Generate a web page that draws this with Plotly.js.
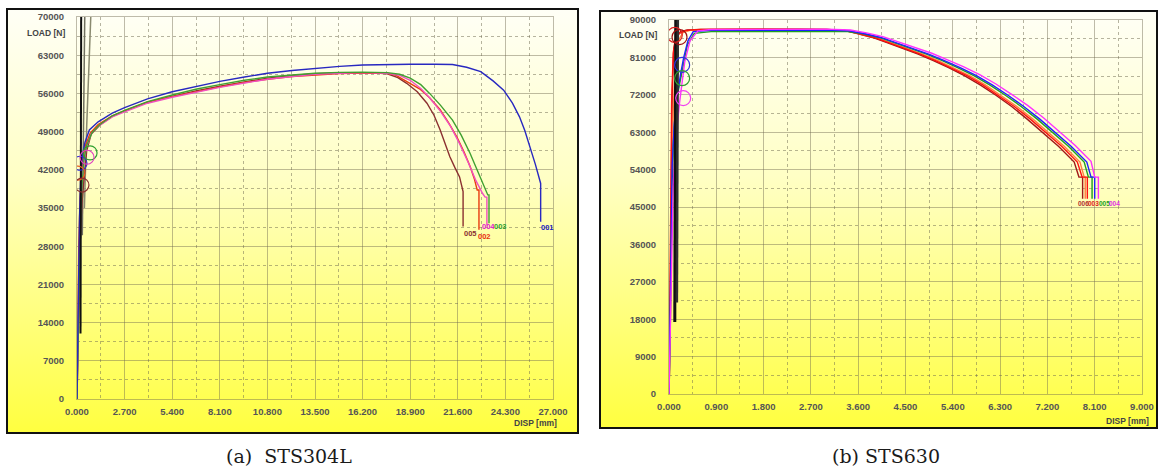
<!DOCTYPE html>
<html>
<head>
<meta charset="utf-8">
<script src="https://cdn.plot.ly/plotly-3.0.1.min.js"></script>
<style>
  html, body { margin:0; padding:0; background:#ffffff; }
  #wrap { position:relative; width:1160px; height:475px; overflow:hidden; }
  .panel { position:absolute; box-sizing:border-box; border:2px solid #111;
           background: linear-gradient(to bottom, #fffff6 0%, #ffffc4 40%, #ffff78 75%, #ffff40 100%); }
  #chart { position:absolute; left:0; top:0; width:1160px; height:475px; }
</style>
</head>
<body>
<div id="wrap">
  <div class="panel" style="left:6px; top:8px; width:573px; height:426px;"></div>
  <div class="panel" style="left:599px; top:10px; width:559px; height:419px;"></div>
  <div id="chart"></div>
</div>
<script>
// ---------------- (a) STS304L ----------------
const dispTicksA = [0, 2.7, 5.4, 8.1, 10.8, 13.5, 16.2, 18.9, 21.6, 24.3, 27.0];
const loadTicksA = [0, 7000, 14000, 21000, 28000, 35000, 42000, 49000, 56000, 63000, 70000];

const a001_x = [0, 0.03, 0.08, 0.14, 0.2, 0.3, 0.45, 0.7, 1.2, 2.0, 2.7, 4.0, 5.4, 6.8, 8.1, 9.5, 10.8, 12.2, 13.5, 14.9, 16.2, 17.6, 18.9, 20.3, 21.3, 22.1, 22.9, 23.6, 24.2, 24.7, 25.1, 25.4, 25.7, 26.0, 26.3, 26.3];
const a001_y = [0, 8000, 20000, 33000, 40000, 44500, 47000, 49300, 50800, 52400, 53400, 55000, 56300, 57300, 58200, 59000, 59700, 60200, 60600, 60950, 61200, 61300, 61350, 61350, 61300, 60800, 60000, 58300, 56600, 54200, 51700, 49200, 46200, 43000, 39500, 32500];

const a003_x = [0, 0.04, 0.1, 0.18, 0.28, 0.4, 0.55, 0.85, 1.3, 2.0, 2.7, 4.0, 5.4, 6.8, 8.1, 9.5, 10.8, 12.2, 13.5, 14.9, 16.2, 17.6, 18.3, 18.9, 19.5, 20.0, 20.6, 21.3, 21.8, 22.3, 22.7, 23.0, 23.3, 23.37, 23.37];
const a003_y = [0, 7000, 19000, 31000, 39000, 44000, 46500, 48800, 50300, 51900, 52900, 54500, 55700, 56800, 57600, 58400, 59000, 59400, 59700, 59850, 59900, 59800, 59500, 58800, 57600, 56000, 53900, 51100, 48300, 45000, 42000, 39500, 37400, 37400, 32200];

const a004_x = [0, 0.03, 0.09, 0.16, 0.25, 0.38, 0.55, 0.8, 1.3, 2.0, 2.7, 4.0, 5.4, 6.8, 8.1, 9.5, 10.8, 12.2, 13.5, 14.9, 16.2, 17.6, 18.3, 18.9, 19.5, 20.0, 20.6, 21.2, 21.7, 22.2, 22.6, 23.0, 23.15, 23.25, 23.25];
const a004_y = [0, 6000, 18000, 30000, 38000, 43500, 46300, 48600, 50200, 51700, 52600, 54200, 55300, 56300, 57100, 57900, 58600, 59100, 59500, 59700, 59800, 59700, 59300, 58400, 56900, 55200, 52800, 49900, 46800, 43300, 40200, 37700, 37000, 37000, 31800];

const a002_x = [0, 0.02, 0.05, 0.1, 0.18, 0.3, 0.45, 0.75, 1.2, 2.0, 2.7, 4.0, 5.4, 6.8, 8.1, 9.5, 10.8, 12.2, 13.5, 14.9, 16.2, 17.6, 18.1, 18.7, 19.45, 20.0, 20.6, 21.1, 21.55, 21.95, 22.3, 22.55, 22.7, 22.8, 22.8];
const a002_y = [0, 5000, 15000, 28000, 37000, 43000, 46200, 48700, 50300, 51900, 52800, 54400, 55400, 56400, 57200, 58000, 58600, 59100, 59400, 59650, 59750, 59700, 59300, 58200, 56800, 55200, 53000, 50500, 48000, 45300, 42600, 40200, 38300, 38300, 31000];

const a005_x = [0, 0.04, 0.1, 0.18, 0.28, 0.4, 0.55, 0.8, 1.3, 2.0, 2.7, 4.0, 5.4, 6.8, 8.1, 9.5, 10.8, 12.2, 13.5, 14.9, 16.2, 17.0, 17.6, 18.2, 18.7, 19.3, 19.85, 20.25, 20.6, 20.9, 21.15, 21.45, 21.7, 21.9, 21.9];
const a005_y = [0, 6000, 17000, 29000, 36000, 41000, 45500, 48500, 50200, 51800, 52800, 54400, 55500, 56500, 57300, 58100, 58800, 59300, 59600, 59750, 59800, 59750, 59600, 58900, 57850, 56300, 54200, 52000, 49300, 46800, 44400, 42300, 40700, 38000, 31600];

// extensometer-like dark traces near origin
const aBlk1_x = [0.2, 0.22, 0.24];
const aBlk1_y = [12000, 45000, 76000];
const aBlk2_x = [0.3, 0.36, 0.46];
const aBlk2_y = [30000, 50000, 76000];
const aBlk3_x = [0.42, 0.55, 0.85];
const aBlk3_y = [35000, 50000, 76000];

// yield markers (circles)
const aCirc_x = [0.17, 0.05, 0.28, 0.74, 0.57];
const aCirc_y = [43200, 41400, 39200, 45100, 44300];
const aCirc_c = ['#3030d0', '#e86020', '#8b3030', '#30a030', '#e040c0'];

// specimen labels
const aLab_t = ['005', '002', '004', '003', '001'];
const aLab_x = [22.3, 23.1, 23.35, 24.0, 26.66];
const aLab_y = [30400, 29700, 31600, 31600, 31500];
const aLab_c = ['#8b3030', '#e83010', '#e020d0', '#30a030', '#2020c0'];

// ---------------- (b) STS630 ----------------
const dispTicksB = [0, 0.9, 1.8, 2.7, 3.6, 4.5, 5.4, 6.3, 7.2, 8.1, 9.0];
const loadTicksB = [0, 9000, 18000, 27000, 36000, 45000, 54000, 63000, 72000, 81000, 90000];

const bDR_x = [0, 0.02, 0.04, 0.06, 0.09, 0.14, 0.22, 0.35, 0.6, 1.5, 2.5, 3.0, 3.33, 3.6, 3.87, 4.16, 4.45, 4.74, 5.03, 5.33, 5.62, 5.92, 6.22, 6.52, 6.81, 7.11, 7.41, 7.71, 7.8, 7.87, 7.87];
const bDR_y = [0, 15000, 45000, 72000, 83000, 86000, 87200, 87600, 87700, 87800, 87800, 87700, 87500, 86700, 85800, 84500, 83200, 81800, 80200, 78500, 76600, 74400, 71900, 69200, 66200, 63000, 59600, 55800, 52200, 52200, 47000];

const bR_x = [0, 0.01, 0.03, 0.05, 0.08, 0.12, 0.2, 0.32, 0.6, 1.5, 2.5, 3.0, 3.35, 3.62, 3.9, 4.19, 4.48, 4.78, 5.07, 5.37, 5.67, 5.97, 6.27, 6.57, 6.87, 7.17, 7.47, 7.77, 7.86, 7.96, 7.96];
const bR_y = [0, 10000, 40000, 70000, 82000, 85500, 86800, 87500, 87700, 87800, 87800, 87700, 87500, 86700, 85800, 84500, 83200, 81800, 80200, 78500, 76600, 74400, 71900, 69200, 66200, 63000, 59600, 55800, 52200, 52200, 47000];

const bO_x = [0, 0.02, 0.05, 0.08, 0.12, 0.18, 0.26, 0.4, 0.8, 1.6, 2.5, 3.0, 3.37, 3.65, 3.94, 4.23, 4.52, 4.82, 5.12, 5.42, 5.72, 6.02, 6.32, 6.62, 6.92, 7.22, 7.52, 7.82, 7.9, 7.92, 7.92];
const bO_y = [0, 12000, 42000, 68000, 80000, 85000, 86900, 87500, 87700, 87700, 87700, 87600, 87400, 86700, 85800, 84500, 83200, 81800, 80200, 78500, 76600, 74400, 71900, 69200, 66200, 63000, 59600, 55800, 52200, 52200, 47000];

const bG_x = [0, 0.02, 0.05, 0.08, 0.13, 0.2, 0.27, 0.35, 0.48, 0.8, 1.6, 2.5, 3.0, 3.4, 3.7, 4.0, 4.3, 4.6, 4.9, 5.2, 5.5, 5.8, 6.1, 6.4, 6.7, 7.0, 7.3, 7.6, 7.9, 7.98, 8.05, 8.05];
const bG_y = [0, 12000, 40000, 60000, 70000, 75000, 79000, 84000, 86800, 87200, 87300, 87300, 87300, 87200, 86700, 85800, 84500, 83200, 81800, 80200, 78500, 76600, 74400, 71900, 69200, 66200, 63000, 59600, 55800, 52200, 52200, 47000];

const bB_x = [0, 0.02, 0.04, 0.06, 0.1, 0.16, 0.22, 0.28, 0.36, 0.46, 0.8, 1.6, 2.5, 3.0, 3.42, 3.73, 4.03, 4.33, 4.64, 4.94, 5.24, 5.55, 5.85, 6.15, 6.45, 6.75, 7.05, 7.35, 7.65, 7.95, 8.03, 8.1, 8.1];
const bB_y = [0, 15000, 35000, 55000, 65000, 72000, 77000, 81000, 85000, 87200, 87500, 87600, 87600, 87600, 87400, 86700, 85800, 84500, 83200, 81800, 80200, 78500, 76600, 74400, 71900, 69200, 66200, 63000, 59600, 55800, 52200, 52200, 47000];

const bM_x = [0, 0.02, 0.05, 0.08, 0.12, 0.16, 0.2, 0.24, 0.3, 0.4, 0.55, 0.8, 1.6, 2.5, 3.0, 3.45, 3.76, 4.07, 4.38, 4.69, 5.0, 5.3, 5.61, 5.92, 6.22, 6.52, 6.83, 7.13, 7.43, 7.73, 8.03, 8.1, 8.17, 8.17];
const bM_y = [0, 15000, 35000, 50000, 60000, 66000, 70000, 74000, 80000, 85000, 87400, 87700, 87800, 87800, 87800, 87600, 86900, 86000, 84700, 83400, 82000, 80400, 78700, 76800, 74600, 72100, 69400, 66400, 63200, 59800, 56000, 52200, 52200, 47000];

const bBlk1_x = [0.11, 0.12, 0.13];
const bBlk1_y = [17300, 60000, 96000];
const bBlk2_x = [0.15, 0.16, 0.17];
const bBlk2_y = [22000, 60000, 96000];

const bCirc_x = [0.11, 0.2, 0.25, 0.25, 0.27];
const bCirc_y = [86400, 85900, 79200, 76000, 71200];
const bCirc_c = ['#e02020', '#a01010', '#3030e0', '#30a030', '#f040f0'];

const bLab_t = ['006', '003', '005', '004'];
const bLab_x = [7.88, 8.08, 8.28, 8.48];
const bLab_y = [45950, 45950, 45950, 45950];
const bLab_c = ['#b03030', '#e02020', '#20a020', '#e030e0'];

// ---------------- build ----------------
function line(x, y, color, width, xa, ya) {
  return {type:'scatter', mode:'lines', x:x, y:y, xaxis:xa, yaxis:ya,
          line:{color:color, width:width}, hoverinfo:'skip'};
}
const traces = [
  line(aBlk2_x, aBlk2_y, '#707060', 1.5, 'x', 'y'),
  line(aBlk3_x, aBlk3_y, '#8a8a70', 1.5, 'x', 'y'),
  line(a005_x, a005_y, '#8b3030', 1.4, 'x', 'y'),
  line(a002_x, a002_y, '#e83c10', 1.4, 'x', 'y'),
  line(a004_x, a004_y, '#f050c0', 1.4, 'x', 'y'),
  line(a003_x, a003_y, '#40a030', 1.4, 'x', 'y'),
  line(a001_x, a001_y, '#2828c0', 1.4, 'x', 'y'),
  line(aBlk1_x, aBlk1_y, '#101010', 2, 'x', 'y'),
  {type:'scatter', mode:'markers', x:aCirc_x, y:aCirc_y, xaxis:'x', yaxis:'y',
   marker:{symbol:'circle-open', size:14, color:aCirc_c, line:{width:1.2, color:aCirc_c}}, hoverinfo:'skip'},

  line(bDR_x, bDR_y, '#a01818', 1.4, 'x2', 'y2'),
  line(bO_x, bO_y, '#ff8040', 1.4, 'x2', 'y2'),
  line(bR_x, bR_y, '#ff1010', 1.4, 'x2', 'y2'),
  line(bG_x, bG_y, '#20a020', 1.4, 'x2', 'y2'),
  line(bB_x, bB_y, '#2020ff', 1.4, 'x2', 'y2'),
  line(bM_x, bM_y, '#ff30ff', 1.4, 'x2', 'y2'),
  line(bBlk1_x, bBlk1_y, '#101010', 3, 'x2', 'y2'),
  line(bBlk2_x, bBlk2_y, '#303030', 2.5, 'x2', 'y2'),
  {type:'scatter', mode:'markers', x:bCirc_x, y:bCirc_y, xaxis:'x2', yaxis:'y2',
   marker:{symbol:'circle-open', size:15, color:bCirc_c, line:{width:1.2, color:bCirc_c}}, hoverinfo:'skip'}
];

const W = 1160, H = 475;
const px = v => v / W, py = v => 1 - v / H;
const gridC = 'rgba(110,105,80,0.45)';
const minorC = 'rgba(110,105,80,0.5)';
const tickFont = {family:'Liberation Sans, Arial, sans-serif', size:9.5, color:'#555555', weight:'bold'};

function xAxis(dom, ticks, rng, anchor) {
  return {domain:dom, range:rng, anchor:anchor, tickmode:'array', tickvals:ticks,
          ticktext:ticks.map(v => v.toFixed(3)), showgrid:true, gridcolor:gridC, gridwidth:1,
          zeroline:false, showline:true, linecolor:gridC, linewidth:1, mirror:true,
          ticks:'', ticklabelstandoff:4, tickfont:tickFont,
          minor:{tickvals:ticks.slice(0,-1).map((v,i)=>(v+ticks[i+1])/2), showgrid:true, gridcolor:minorC, griddash:'3px,3px', gridwidth:1, ticks:''}};
}
function yAxis(dom, ticks, rng, anchor) {
  return {domain:dom, range:rng, anchor:anchor, tickmode:'array', tickvals:ticks,
          ticktext:ticks.map(v => String(v)), showgrid:true, gridcolor:gridC, gridwidth:1,
          zeroline:false, showline:true, linecolor:gridC, linewidth:1, mirror:true,
          ticks:'', ticklabelstandoff:10, tickfont:tickFont,
          minor:{tickvals:ticks.slice(0,-1).map((v,i)=>(v+ticks[i+1])/2), showgrid:true, gridcolor:minorC, griddash:'3px,3px', gridwidth:1, ticks:''}};
}

const annotations = [];
aLab_t.forEach((t,i) => annotations.push({xref:'x', yref:'y', x:aLab_x[i], y:aLab_y[i], text:'<b>'+t+'</b>',
  showarrow:false, font:{family:'Liberation Sans, Arial', size:7.5, color:aLab_c[i]}, xanchor:'center', yanchor:'middle'}));
bLab_t.forEach((t,i) => annotations.push({xref:'x2', yref:'y2', x:bLab_x[i], y:bLab_y[i], text:'<b>'+t+'</b>',
  showarrow:false, font:{family:'Liberation Sans, Arial', size:6.5, color:bLab_c[i]}, xanchor:'center', yanchor:'middle'}));
const axT = {family:'Liberation Sans, Arial, sans-serif', size:8.5, color:'#444444', weight:'bold'};
annotations.push({xref:'paper', yref:'paper', x:px(25), y:py(33), text:'LOAD [N]', showarrow:false, xanchor:'left', yanchor:'middle', font:axT});
annotations.push({xref:'paper', yref:'paper', x:px(617), y:py(35), text:'LOAD [N]', showarrow:false, xanchor:'left', yanchor:'middle', font:axT});
annotations.push({xref:'paper', yref:'paper', x:px(559), y:py(423), text:'DISP [mm]', showarrow:false, xanchor:'right', yanchor:'middle', font:axT});
annotations.push({xref:'paper', yref:'paper', x:px(1151), y:py(421), text:'DISP [mm]', showarrow:false, xanchor:'right', yanchor:'middle', font:axT});
const capF = {family:'DejaVu Serif, Liberation Serif, serif', size:19, color:'#1a1a1a'};
annotations.push({xref:'paper', yref:'paper', x:px(289), y:py(456), text:'(a)\u00a0\u00a0STS304L', showarrow:false, xanchor:'center', yanchor:'middle', font:capF});
annotations.push({xref:'paper', yref:'paper', x:px(886), y:py(456), text:'(b) STS630', showarrow:false, xanchor:'center', yanchor:'middle', font:capF});

const layout = {
  width:W, height:H, margin:{l:0, r:0, t:0, b:0},
  paper_bgcolor:'rgba(0,0,0,0)', plot_bgcolor:'rgba(0,0,0,0)', showlegend:false,
  xaxis: xAxis([px(77), px(553)], dispTicksA, [0, 27], 'y'),
  yaxis: yAxis([py(399), py(17)], loadTicksA, [0, 70000], 'x'),
  xaxis2: xAxis([px(669), px(1142)], dispTicksB, [0, 9], 'y2'),
  yaxis2: yAxis([py(394), py(20)], loadTicksB, [0, 90000], 'x2'),
  annotations: annotations
};
Plotly.newPlot('chart', traces, layout, {staticPlot:true, displayModeBar:false});
</script>
</body>
</html>
